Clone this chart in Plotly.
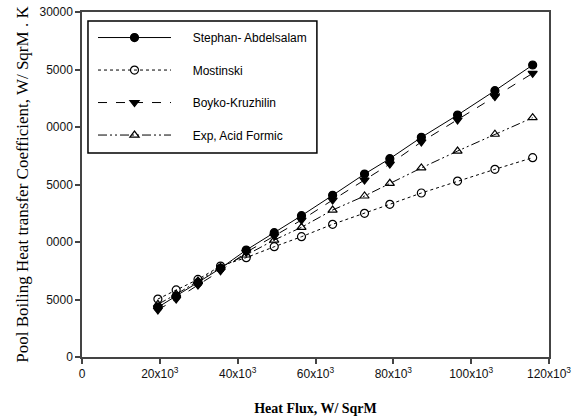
import plotly.graph_objects as go

heat_flux = [19500, 24200, 29800, 35600, 42200, 49400, 56400, 64400, 72600, 79100, 87200, 96500, 106100, 115800]
stephan = [4320, 5300, 6460, 7710, 9300, 10810, 12290, 14060, 15910, 17250, 19100, 21040, 23160, 25390]
mostinski = [5040, 5830, 6750, 7910, 8640, 9590, 10460, 11540, 12490, 13280, 14260, 15300, 16320, 17330]
boyko = [4090, 5040, 6260, 7500, 9100, 10520, 11910, 13650, 15390, 16780, 18700, 20610, 22640, 24670]
exp_acid = [4580, 5450, 6610, 7800, 8870, 10170, 11280, 12780, 14000, 15100, 16440, 17910, 19370, 20810]

x_tickvals = [0, 20000, 40000, 60000, 80000, 100000, 120000]
x_ticktext = ["0", "20x10<sup>3</sup>", "40x10<sup>3</sup>", "60x10<sup>3</sup>", "80x10<sup>3</sup>",
              "100x10<sup>3</sup>", "120x10<sup>3</sup>"]
y_tickvals = [0, 5000, 10000, 15000, 20000, 25000, 30000]
y_ticktext = ["0", "5000", "0000", "5000", "0000", "5000", "30000"]

series_names = ["Stephan- Abdelsalam", "Mostinski", "Boyko-Kruzhilin", "Exp, Acid Formic"]
series_values = [stephan, mostinski, boyko, exp_acid]
dashes = ["solid", "dot", "dash", "9px,3px,2px,3px,2px,3px"]
symbols = ["circle", "circle-open", "triangle-down", "triangle-up-open"]

fig = go.Figure()
for i, (name, vals, dash, sym) in enumerate(zip(series_names, series_values, dashes, symbols)):
    fig.add_trace(go.Scatter(
        x=heat_flux, y=vals, name="\u00a0" * 5 + name, mode="lines+markers",
        legendgroup=str(i),
        line=dict(color="black", width=1, dash=dash),
        marker=dict(symbol=sym, size=8, color="black", line=dict(color="black", width=1.2)),
    ))

axis_common = dict(
    showline=True, linecolor="#444", linewidth=1.5, mirror=True,
    ticks="outside", ticklen=5, tickcolor="#444", tickwidth=1.5,
    showgrid=False, zeroline=False, automargin=False,
    tickfont=dict(family="Liberation Sans, Arial", size=12, color="#111"),
)

fig.update_layout(
    width=581, height=418,
    margin=dict(l=82, r=32, t=12, b=61),
    plot_bgcolor="white", paper_bgcolor="white",
    xaxis=dict(range=[0, 120000], tickmode="array", tickvals=x_tickvals, ticktext=x_ticktext,
               title=dict(text="<b>Heat Flux, W/ SqrM</b>", standoff=23,
                          font=dict(family="Liberation Serif, Times New Roman", size=14, color="black")),
               **axis_common),
    yaxis=dict(range=[0, 30000], tickmode="array", tickvals=y_tickvals, ticktext=y_ticktext,
               title=dict(text="Pool Boiling Heat transfer Coefficient, W/ SqrM . K" + "\u00a0" * 4, standoff=7,
                          font=dict(family="Liberation Serif, Times New Roman", size=17, color="black")),
               **axis_common),
    legend=dict(x=(93 - 82) / 467, y=0.968, xanchor="left", yanchor="top",
                borderwidth=0, bgcolor="rgba(0,0,0,0)",
                itemwidth=73, tracegroupgap=13.5, traceorder="grouped",
                font=dict(family="Liberation Sans, Arial", size=12, color="black")),
    shapes=[dict(type="rect", xref="paper", yref="paper",
                 x0=0.0128, x1=0.503, y0=0.591, y1=0.974,
                 line=dict(color="black", width=1.5), fillcolor="rgba(0,0,0,0)", layer="above")],
    showlegend=True,
)

fig.write_html("out.html", config={"displayModeBar": False},
               post_script="document.body.style.margin='0';")
